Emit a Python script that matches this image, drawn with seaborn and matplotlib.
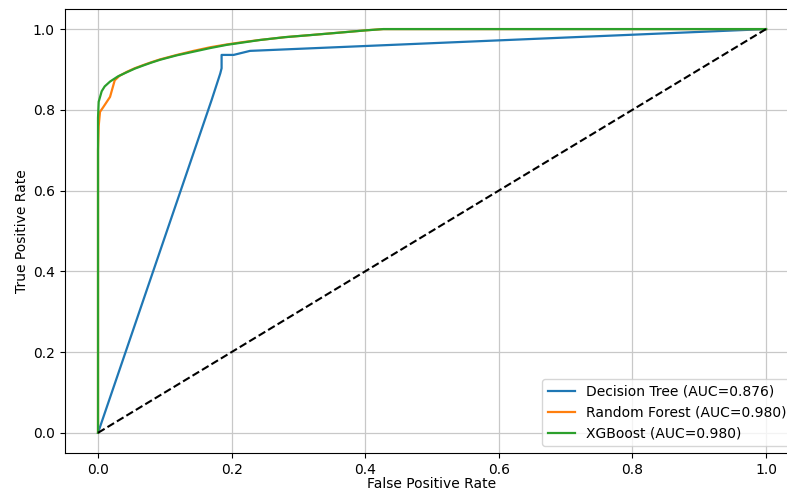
import matplotlib
matplotlib.use("Agg")
import matplotlib.pyplot as plt
import seaborn as sns
import pandas as pd

# Decision Tree ROC
dt_fpr = [0.0, 0.170, 0.183, 0.185, 0.185, 0.203, 0.2275, 1.0]
dt_tpr = [0.0, 0.824, 0.890, 0.903, 0.936, 0.936, 0.946, 1.0]

# Random Forest ROC
rf_fpr = [0.0, 0.0, 0.001, 0.003, 0.008, 0.018, 0.025, 0.032, 0.043, 0.055, 0.068,
          0.080, 0.093, 0.118, 0.143, 0.168, 0.193, 0.218, 0.2425, 0.28, 0.317,
          0.36, 0.402, 0.427, 1.0]
rf_tpr = [0.0, 0.70, 0.76, 0.795, 0.807, 0.832, 0.873, 0.884, 0.894, 0.903, 0.911,
          0.918, 0.925, 0.936, 0.946, 0.955, 0.962, 0.968, 0.973, 0.980, 0.985,
          0.991, 0.997, 1.0, 1.0]

# XGBoost ROC
xg_fpr = [0.0, 0.0, 0.001, 0.0055, 0.010, 0.018, 0.030, 0.043, 0.055, 0.068,
          0.080, 0.093, 0.118, 0.143, 0.168, 0.193, 0.218, 0.2425, 0.28, 0.317,
          0.36, 0.402, 0.427, 1.0]
xg_tpr = [0.0, 0.78, 0.82, 0.846, 0.858, 0.870, 0.883, 0.893, 0.902, 0.910,
          0.917, 0.924, 0.935, 0.944, 0.953, 0.961, 0.967, 0.973, 0.980, 0.985,
          0.991, 0.997, 1.0, 1.0]

labels = ["Decision Tree (AUC=0.876)", "Random Forest (AUC=0.980)", "XGBoost (AUC=0.980)"]

rows = []
for lab, xs, ys in zip(labels, [dt_fpr, rf_fpr, xg_fpr], [dt_tpr, rf_tpr, xg_tpr]):
    for x, y in zip(xs, ys):
        rows.append({"model": lab, "fpr": x, "tpr": y})
df = pd.DataFrame(rows)

fig = plt.figure(figsize=(7.87, 4.94), dpi=100)
ax = fig.add_axes([0.0821, 0.083, 0.9337, 0.899])

sns.lineplot(data=df, x="fpr", y="tpr", hue="model", hue_order=labels,
             palette=["#1f77b4", "#ff7f0e", "#2ca02c"], sort=False,
             estimator=None, ax=ax, linewidth=1.6)
ax.plot([0, 1], [0, 1], "k--", linewidth=1.5)

ax.set_xlim(-0.05, 1.05)
ax.set_ylim(-0.05, 1.05)
ax.set_xticks([0.0, 0.2, 0.4, 0.6, 0.8, 1.0])
ax.set_yticks([0.0, 0.2, 0.4, 0.6, 0.8, 1.0])
ax.set_xlabel("False Positive Rate", labelpad=0.5)
ax.set_ylabel("True Positive Rate", labelpad=3)
ax.grid(True, color="#c8c8c8", linewidth=0.9)
ax.legend(loc="lower right", title=None)

fig.savefig("out.png", dpi=100)
